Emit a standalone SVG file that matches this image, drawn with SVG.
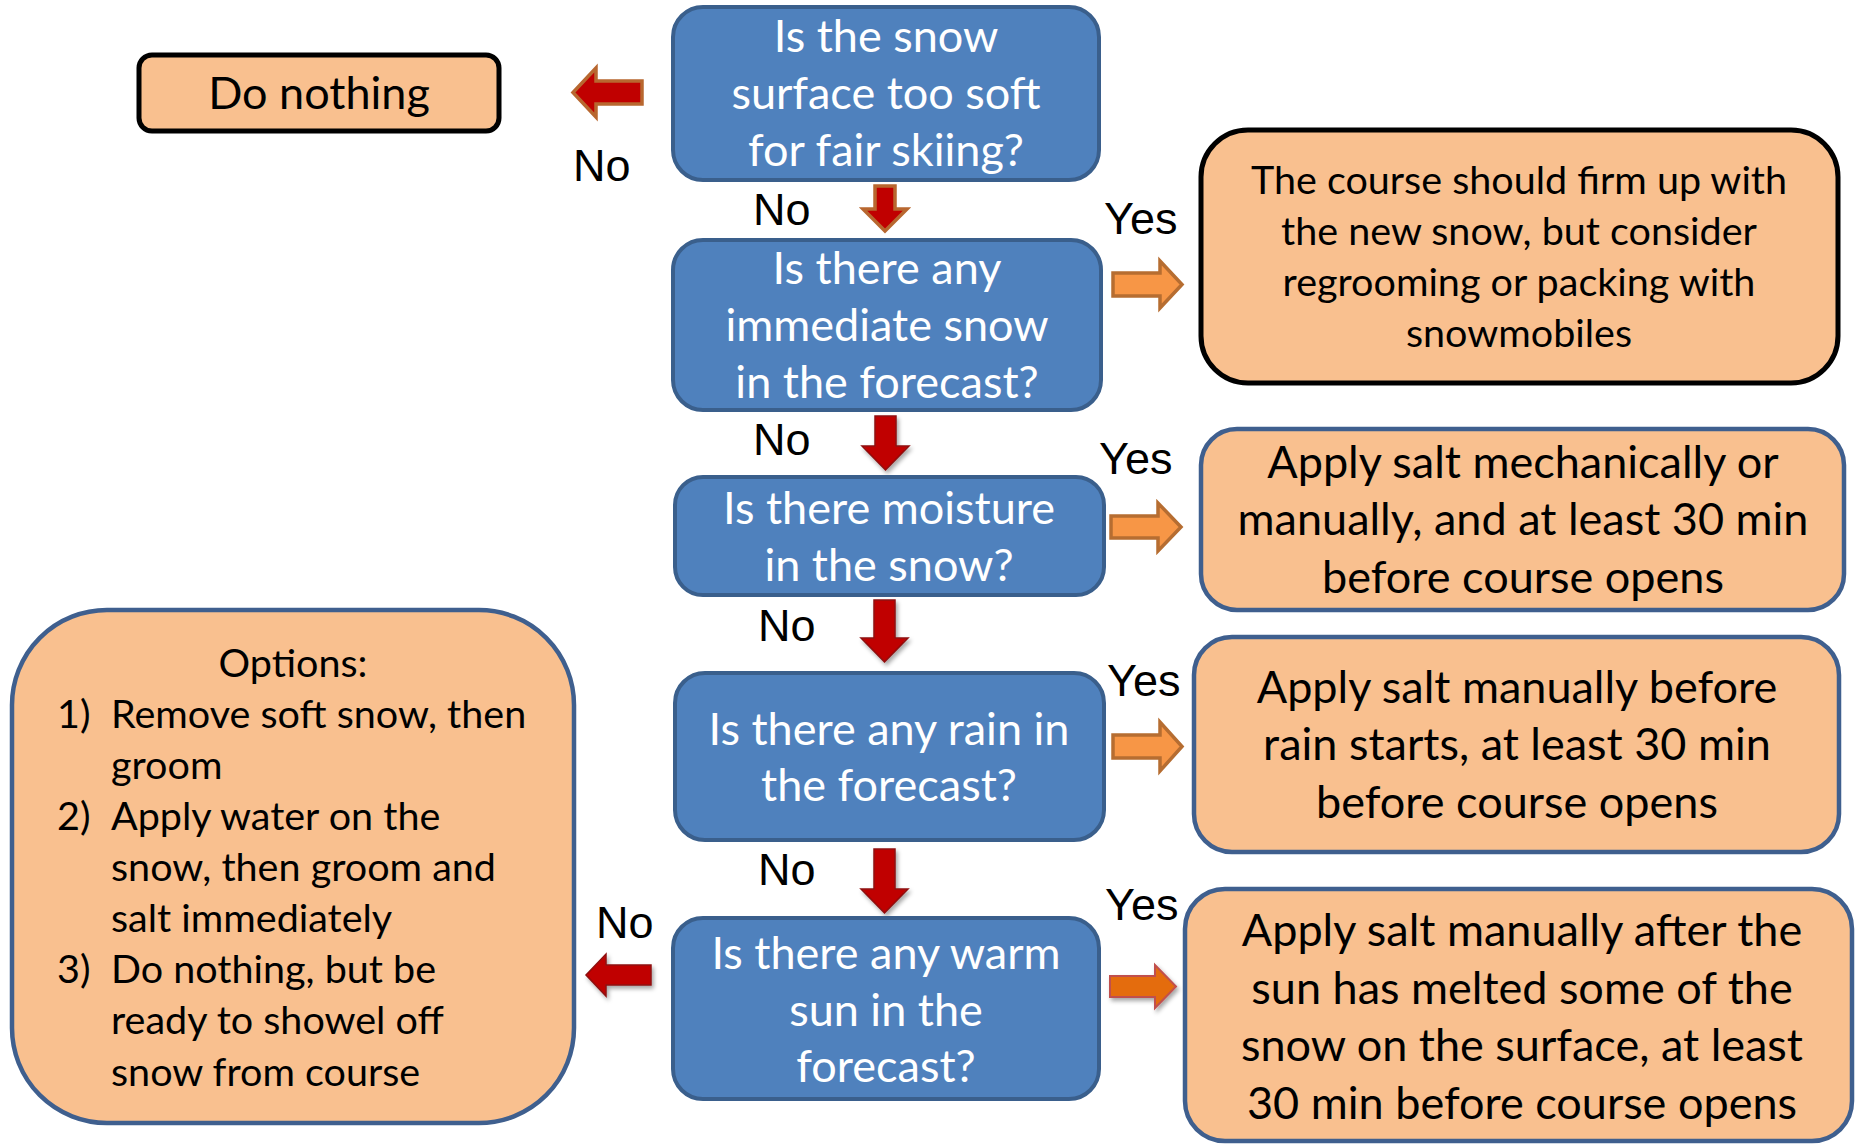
<svg xmlns="http://www.w3.org/2000/svg" width="1857" height="1144" viewBox="0 0 1857 1144">
<defs>
<style>
.q{fill:#4F81BD;stroke:#3A5F8C;stroke-width:4}
.o{fill:#F9C08F;stroke:#3F5F8E;stroke-width:4.5}
.ob{fill:#F9C08F;stroke:#000;stroke-width:5}
.tw{font-family:Lato,"Open Sans",sans-serif;font-size:45px;fill:#fff;text-anchor:middle}
.tb{font-family:Lato,"Open Sans",sans-serif;font-size:45px;fill:#000;text-anchor:middle}
.ts{font-family:Lato,"Open Sans",sans-serif;font-size:39.5px;fill:#000}
.lb{font-family:"Liberation Sans",Arial,sans-serif;font-size:45px;fill:#000}
.ar{fill:#C00000;stroke:#8E1010;stroke-width:1.5}
.ab{fill:#C00000;stroke:#B8672F;stroke-width:3.5}
.ay{fill:#F79646;stroke:#B66D31;stroke-width:3.5}
.ay2{fill:#E46C0A;stroke:#C0504D;stroke-width:2}
</style>
<filter id="sh" x="-30%" y="-30%" width="160%" height="160%">
<feDropShadow dx="2" dy="3" stdDeviation="2" flood-color="#000" flood-opacity="0.35"/>
</filter>
</defs>
<rect width="1857" height="1144" fill="#fff"/>

<g id="connectors">
<path class="ab" d="M642,81 L596,81 L596,68 L573,92.5 L596,117 L596,104 L642,104 Z"/>
<path class="ab" d="M875,186 L895,186 L895,209 L907,209 L885,231 L863,209 L875,209 Z"/>
<path class="ar" filter="url(#sh)" d="M875,416 L896,416 L896,446 L909,446 L885.5,470 L862,446 L875,446 Z"/>
<path class="ar" filter="url(#sh)" d="M874,600 L895,600 L895,638 L908,638 L884.5,662 L861,638 L874,638 Z"/>
<path class="ar" filter="url(#sh)" d="M874,849 L895,849 L895,889 L908,889 L884.5,913 L861,889 L874,889 Z"/>
<path class="ar" filter="url(#sh)" d="M651,965 L606,965 L606,954 L586,975 L606,996 L606,985 L651,985 Z"/>
<path class="ay" d="M1113,273 L1160,273 L1160,261 L1182,284.5 L1160,308 L1160,296 L1113,296 Z"/>
<path class="ay" d="M1111,516 L1158,516 L1158,503 L1181,527 L1158,551 L1158,538 L1111,538 Z"/>
<path class="ay" d="M1113,735 L1160,735 L1160,722 L1182,746.5 L1160,771 L1160,758 L1113,758 Z"/>
<path class="ay2" filter="url(#sh)" d="M1110,976 L1155,976 L1155,965 L1176,986.5 L1155,1008 L1155,997 L1110,997 Z"/>
<text class="lb" x="573" y="181">No</text>
<text class="lb" x="753" y="225">No</text>
<text class="lb" x="1104" y="234">Yes</text>
<text class="lb" x="753" y="455">No</text>
<text class="lb" x="1099" y="474">Yes</text>
<text class="lb" x="758" y="641">No</text>
<text class="lb" x="1107" y="696">Yes</text>
<text class="lb" x="758" y="885">No</text>
<text class="lb" x="1105" y="920">Yes</text>
<text class="lb" x="596" y="938">No</text>
</g>

<g id="do-nothing">
<rect class="ob" x="139" y="55" width="360" height="76" rx="13"/>
<text class="tb" x="319" y="109">Do nothing</text>
</g>

<g id="q1">
<rect class="q" x="673" y="7" width="426" height="173" rx="30"/>
<text class="tw" x="886" y="52">Is the snow</text>
<text class="tw" x="886" y="109">surface too soft</text>
<text class="tw" x="886" y="166">for fair skiing?</text>
</g>

<g id="q2">
<rect class="q" x="673" y="240" width="428" height="170" rx="30"/>
<text class="tw" x="887" y="284">Is there any</text>
<text class="tw" x="887" y="341">immediate snow</text>
<text class="tw" x="887" y="398">in the forecast?</text>
</g>

<g id="q3">
<rect class="q" x="675" y="477" width="429" height="118" rx="28"/>
<text class="tw" x="889" y="524">Is there moisture</text>
<text class="tw" x="889" y="581">in the snow?</text>
</g>

<g id="q4">
<rect class="q" x="675" y="673" width="429" height="167" rx="30"/>
<text class="tw" x="889" y="745">Is there any rain in</text>
<text class="tw" x="889" y="801">the forecast?</text>
</g>

<g id="q5">
<rect class="q" x="673" y="918" width="426" height="181" rx="30"/>
<text class="tw" x="886" y="969">Is there any warm</text>
<text class="tw" x="886" y="1026">sun in the</text>
<text class="tw" x="886" y="1082">forecast?</text>
</g>

<g id="a-firm">
<rect class="ob" x="1201" y="130" width="637" height="253" rx="47"/>
<text class="tb" style="font-size:39.5px" x="1519" y="194">The course should firm up with</text>
<text class="tb" style="font-size:39.5px" x="1519" y="245">the new snow, but consider</text>
<text class="tb" style="font-size:39.5px" x="1519" y="296">regrooming or packing with</text>
<text class="tb" style="font-size:39.5px" x="1519" y="347">snowmobiles</text>
</g>

<g id="a-moisture">
<rect class="o" x="1201" y="429" width="643" height="181" rx="36"/>
<text class="tb" x="1523" y="478">Apply salt mechanically or</text>
<text class="tb" x="1523" y="535">manually, and at least 30 min</text>
<text class="tb" x="1523" y="593">before course opens</text>
</g>

<g id="a-rain">
<rect class="o" x="1194" y="637" width="645" height="215" rx="38"/>
<text class="tb" x="1517" y="703">Apply salt manually before</text>
<text class="tb" x="1517" y="760">rain starts, at least 30 min</text>
<text class="tb" x="1517" y="818">before course opens</text>
</g>

<g id="a-sun">
<rect class="o" x="1185" y="889" width="667" height="252" rx="40"/>
<text class="tb" x="1522" y="946">Apply salt manually after the</text>
<text class="tb" x="1522" y="1004">sun has melted some of the</text>
<text class="tb" x="1522" y="1061">snow on the surface, at least</text>
<text class="tb" x="1522" y="1119">30 min before course opens</text>
</g>

<g id="options">
<rect class="o" x="12" y="610" width="562" height="513" rx="95"/>
<text class="tb" style="font-size:39.5px" x="293" y="677">Options:</text>
<text class="ts" x="57" y="728">1)</text>
<text class="ts" x="111" y="728">Remove soft snow, then</text>
<text class="ts" x="111" y="779">groom</text>
<text class="ts" x="57" y="830">2)</text>
<text class="ts" x="111" y="830">Apply water on the</text>
<text class="ts" x="111" y="881">snow, then groom and</text>
<text class="ts" x="111" y="932">salt immediately</text>
<text class="ts" x="57" y="983">3)</text>
<text class="ts" x="111" y="983">Do nothing, but be</text>
<text class="ts" x="111" y="1034">ready to showel off</text>
<text class="ts" x="111" y="1086">snow from course</text>
</g>
</svg>
